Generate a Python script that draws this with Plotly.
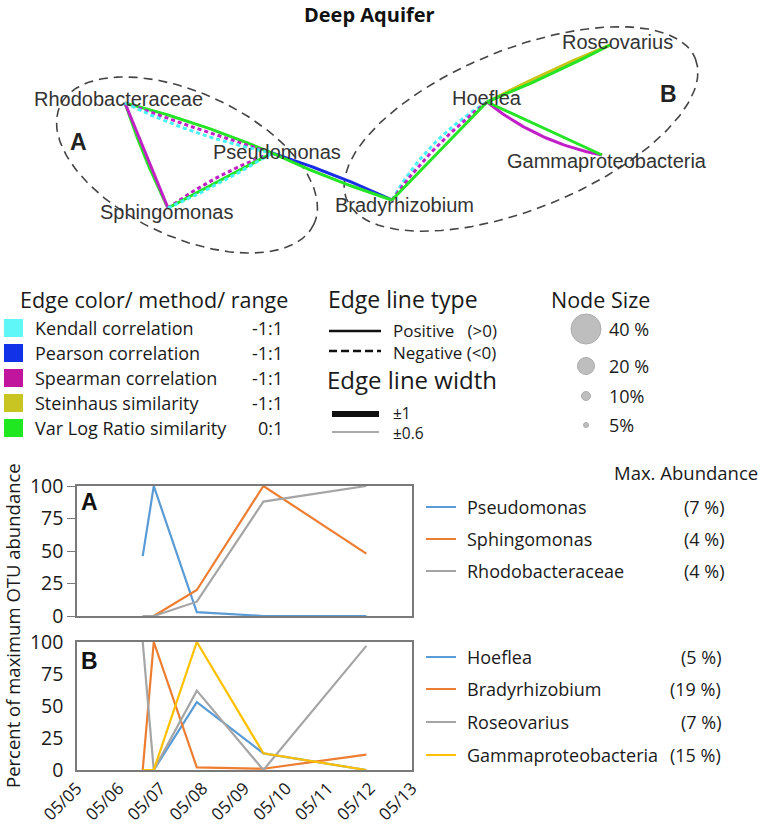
import numpy as np
import plotly.graph_objects as go

W, H = 760, 827

# ---------------- network data ----------------
node_names = ["Rhodobacteraceae", "Sphingomonas", "Pseudomonas", "Bradyrhizobium",
              "Hoeflea", "Roseovarius", "Gammaproteobacteria"]

edge_source = ["Rhodobacteraceae", "Rhodobacteraceae",
               "Rhodobacteraceae", "Rhodobacteraceae", "Rhodobacteraceae",
               "Sphingomonas", "Sphingomonas", "Sphingomonas",
               "Pseudomonas", "Pseudomonas",
               "Bradyrhizobium", "Bradyrhizobium", "Bradyrhizobium",
               "Hoeflea", "Hoeflea",
               "Hoeflea", "Hoeflea"]
edge_target = ["Sphingomonas", "Sphingomonas",
               "Pseudomonas", "Pseudomonas", "Pseudomonas",
               "Pseudomonas", "Pseudomonas", "Pseudomonas",
               "Bradyrhizobium", "Bradyrhizobium",
               "Hoeflea", "Hoeflea", "Hoeflea",
               "Roseovarius", "Roseovarius",
               "Gammaproteobacteria", "Gammaproteobacteria"]
edge_method = ["Var Log Ratio", "Spearman",
               "Var Log Ratio", "Spearman", "Kendall",
               "Spearman", "Var Log Ratio", "Kendall",
               "Pearson", "Var Log Ratio",
               "Kendall", "Spearman", "Var Log Ratio",
               "Steinhaus", "Var Log Ratio",
               "Spearman", "Var Log Ratio"]
edge_sign = [1, 1,
             1, -1, -1,
             -1, 1, -1,
             1, 1,
             -1, -1, 1,
             1, 1,
             1, 1]

# legend text
method_labels = ["Kendall correlation", "Pearson correlation", "Spearman correlation",
                 "Steinhaus similarity", "Var Log Ratio similarity"]
method_keys = ["Kendall", "Pearson", "Spearman", "Steinhaus", "Var Log Ratio"]
method_ranges = ["-1:1", "-1:1", "-1:1", "-1:1", "0:1"]
node_size_labels = ["40 %", "20 %", "10%", "5%"]
node_size_values = [40, 20, 10, 5]

# ---------------- time series data ----------------
sample_dates = ["2013-05-06 13:40", "2013-05-06 20:00", "2013-05-07 20:40",
                "2013-05-09 10:50", "2013-05-11 21:50"]
a_names = ["Pseudomonas", "Sphingomonas", "Rhodobacteraceae"]
a_max = ["(7 %)", "(4 %)", "(4 %)"]
pseudomonas = [46, 100, 3, 0, 0]
sphingomonas = [0, 0, 20, 100, 48]
rhodobacteraceae = [0, 0, 11, 88, 100]

b_names = ["Hoeflea", "Bradyrhizobium", "Roseovarius", "Gammaproteobacteria"]
b_max = ["(5 %)", "(19 %)", "(7 %)", "(15 %)"]
hoeflea = [0, 0, 53, 13, 0]
bradyrhizobium = [0, 100, 2, 1, 12]
roseovarius = [100, 0, 62, 0, 97]
gammaproteobacteria = [0, 0, 100, 13, 0]

y_ticks = [0, 25, 50, 75, 100]

# ---------------- styles / layout positions ----------------
method_color = {"Kendall": "#45F2F5", "Pearson": "#1A2EE6", "Spearman": "#C21FC8",
                "Steinhaus": "#C9C416", "Var Log Ratio": "#25E425"}
legend_square_color = {"Kendall": "#5FF7F7", "Pearson": "#1232E8", "Spearman": "#C2159E",
                       "Steinhaus": "#C8C422", "Var Log Ratio": "#20E820"}
series_colors = ["#5B9BD5", "#ED7D31", "#A5A5A5", "#FFC000"]

node_pos = {"Rhodobacteraceae": (125, 103), "Sphingomonas": (168, 208),
            "Pseudomonas": (272, 153), "Bradyrhizobium": (392, 200),
            "Hoeflea": (487, 102), "Roseovarius": (610, 45),
            "Gammaproteobacteria": (602, 155)}
label_pos = {"Rhodobacteraceae": (118, 99), "Sphingomonas": (166, 212),
             "Pseudomonas": (277, 152), "Bradyrhizobium": (404, 205),
             "Hoeflea": (487, 98), "Roseovarius": (617, 42),
             "Gammaproteobacteria": (607, 161)}
edge_bend = [2, 0,
             -3, 1, 5,
             -4, 0, 2,
             -2, 2,
             -9, -5, 0,
             -1.5, 1.5,
             8, 0]

CAL = "'Open Sans', Lato, sans-serif"
ARIAL = "'Liberation Sans', Arial, sans-serif"

fig = go.Figure()

OV = dict(xaxis="x3", yaxis="y3")


def curve(p0, p1, bend, n=40):
    t = np.linspace(0, 1, n)
    x0, y0 = p0
    x1, y1 = p1
    dx, dy = x1 - x0, y1 - y0
    L = np.hypot(dx, dy)
    px, py = -dy / L, dx / L
    b = bend * 4 * t * (1 - t)
    return x0 + dx * t + px * b, y0 + dy * t + py * b


def ellipse(cx, cy, a, b, ang_deg, n=200):
    t = np.linspace(0, 2 * np.pi, n)
    th = np.deg2rad(ang_deg)
    x = cx + a * np.cos(t) * np.cos(th) - b * np.sin(t) * np.sin(th)
    y = cy + a * np.cos(t) * np.sin(th) + b * np.sin(t) * np.cos(th)
    return x, y


for (cx, cy, a, b, ang) in [(187, 165, 140, 72, 25), (521, 129, 188, 80, -22)]:
    ex, ey = ellipse(cx, cy, a, b, ang)
    fig.add_trace(go.Scatter(x=ex, y=ey, mode="lines", hoverinfo="skip", showlegend=False,
                             line=dict(color="#444444", width=1.6, dash="9px,6px"), **OV))

for s, t_, m, sg, bd in zip(edge_source, edge_target, edge_method, edge_sign, edge_bend):
    x, y = curve(node_pos[s], node_pos[t_], bd)
    fig.add_trace(go.Scatter(x=x, y=y, mode="lines", hoverinfo="skip", showlegend=False,
                             line=dict(color=method_color[m], width=3,
                                       dash="solid" if sg > 0 else "4px,3px"), **OV))

annotations = []
shapes = []


def txt(x, y, s, size, font=CAL, xanchor="left", bold=False, color="#1a1a1a", **kw):
    annotations.append(dict(x=x, y=y, xref="x3", yref="y3", text=("<b>%s</b>" % s) if bold else s,
                            showarrow=False, xanchor=xanchor, yanchor="middle",
                            font=dict(family=font, size=size, color=color), **kw))


for n in node_names:
    lx, ly = label_pos[n]
    txt(lx, ly, n, 20, font=ARIAL, xanchor="center", color="#333333")

txt(369, 14, "Deep Aquifer", 20, xanchor="center", bold=True, color="#111111")
txt(78, 142, "A", 23, xanchor="center", bold=True, font=ARIAL, color="#222222")
txt(668, 94, "B", 23, xanchor="center", bold=True, font=ARIAL, color="#222222")

# ---- legend: edge colour ----
txt(18, 299, "Edge color/ method/ range", 21.5)
rows = [328, 353, 378, 403, 428]
for key, lab, rng, ry in zip(method_keys, method_labels, method_ranges, rows):
    shapes.append(dict(type="rect", xref="x3", yref="y3", x0=4, x1=23, y0=ry - 9, y1=ry + 9,
                       fillcolor=legend_square_color[key], line=dict(width=0)))
    txt(33, ry, lab, 18)
    txt(285, ry, rng, 18, xanchor="right")

# ---- legend: line type ----
txt(403, 299, "Edge line type", 23, xanchor="center")
shapes.append(dict(type="line", xref="x3", yref="y3", x0=329, x1=381, y0=331, y1=331,
                   line=dict(color="#111111", width=2.5)))
shapes.append(dict(type="line", xref="x3", yref="y3", x0=329, x1=381, y0=351, y1=351,
                   line=dict(color="#111111", width=2.5, dash="8px,4px")))
txt(391, 341, "Positive&nbsp;&nbsp;&nbsp;(>0)<br>Negative (<0)", 17, align="left")
txt(412, 379, "Edge line width", 24, xanchor="center")
shapes.append(dict(type="line", xref="x3", yref="y3", x0=332, x1=379, y0=414, y1=414,
                   line=dict(color="#111111", width=6)))
shapes.append(dict(type="line", xref="x3", yref="y3", x0=332, x1=379, y0=432, y1=432,
                   line=dict(color="#555555", width=1.2)))
txt(391, 423, "±1<br>±0.6", 15.5, align="left")

# ---- legend: node size ----
txt(600, 299, "Node Size", 21.5, xanchor="center")
size_rows = [329, 366, 396, 425]
size_px = [30, 17, 9, 5]
fig.add_trace(go.Scatter(x=[586] * 4, y=size_rows, mode="markers", hoverinfo="skip",
                         showlegend=False,
                         marker=dict(size=size_px, color="#A3A3A3",
                                     line=dict(color="#8a8a8a", width=1)), **OV))
for lab, ry in zip(node_size_labels, size_rows):
    txt(607, ry, lab, 18)

# ---------------- time series ----------------
a_series = [pseudomonas, sphingomonas, rhodobacteraceae]
for name, vals, col in zip(a_names, a_series, series_colors):
    fig.add_trace(go.Scatter(x=sample_dates, y=vals, mode="lines", name=name, showlegend=False,
                             line=dict(color=col, width=2.2), xaxis="x", yaxis="y"))
b_series = [hoeflea, bradyrhizobium, roseovarius, gammaproteobacteria]
for name, vals, col in zip(b_names, b_series, series_colors):
    fig.add_trace(go.Scatter(x=sample_dates, y=vals, mode="lines", name=name, showlegend=False,
                             line=dict(color=col, width=2.2), xaxis="x2", yaxis="y2"))

txt(686, 472, "Max. Abundance", 18.5, xanchor="center")
for name, mx, ry, col in zip(a_names, a_max, [507, 539, 571], series_colors):
    shapes.append(dict(type="line", xref="x3", yref="y3", x0=426, x1=456, y0=ry, y1=ry,
                       line=dict(color=col, width=2)))
    txt(465, ry, name, 18)
    txt(726, ry, mx, 18, xanchor="right")
for name, mx, ry, col in zip(b_names, b_max, [657, 689, 722, 755], series_colors):
    shapes.append(dict(type="line", xref="x3", yref="y3", x0=426, x1=456, y0=ry, y1=ry,
                       line=dict(color=col, width=2)))
    txt(465, ry, name, 18)
    txt(723, ry, mx, 18, xanchor="right")

txt(89, 502, "A", 23, bold=True, xanchor="center", font=ARIAL, color="#111111")
txt(89, 661, "B", 23, bold=True, xanchor="center", font=ARIAL, color="#111111")
annotations.append(dict(x=12, y=626, xref="x3", yref="y3", text="Percent of maximum OTU abundance",
                        textangle=-90, showarrow=False, xanchor="center", yanchor="middle",
                        font=dict(family=CAL, size=18.5, color="#1a1a1a")))

px0, px1 = 77, 412


def xdom(left, right):
    return [left / W, right / W]


def ydom(top, bot):
    return [(H - bot) / H, (H - top) / H]


xr = ["2013-05-05", "2013-05-13"]
common_x = dict(type="date", range=xr, showgrid=False, zeroline=False, showline=True,
                linecolor="#7a7a7a", linewidth=1.5, mirror=True, automargin=False,
                domain=xdom(px0, px1))
common_y = dict(range=[0, 100], tickvals=y_ticks, showgrid=False, zeroline=False,
                showline=True, linecolor="#7a7a7a", linewidth=1.5, mirror=True, automargin=False,
                tickfont=dict(family=CAL, size=19.5, color="#1a1a1a"))

fig.update_layout(
    template="none",
    width=W, height=H, margin=dict(l=0, r=0, t=0, b=0, autoexpand=False),
    paper_bgcolor="white", plot_bgcolor="rgba(0,0,0,0)",
    showlegend=False,
    xaxis=dict(**common_x, anchor="y", showticklabels=False, ticks=""),
    yaxis=dict(**common_y, anchor="x", domain=ydom(486, 616), ticks="outside", ticklen=8,
               tickcolor="#7a7a7a"),
    xaxis2=dict(**common_x, anchor="y2", tickformat="%m/%d", dtick=86400000, tickangle=-45,
                ticks="", tickfont=dict(family=CAL, size=17, color="#1a1a1a")),
    yaxis2=dict(**common_y, anchor="x2", domain=ydom(642, 770), ticks="outside", ticklen=8,
                tickcolor="rgba(0,0,0,0)"),
    xaxis3=dict(range=[0, W], domain=[0, 1], visible=False, fixedrange=True, anchor="y3",
                automargin=False),
    yaxis3=dict(range=[H, 0], domain=[0, 1], visible=False, fixedrange=True, anchor="x3",
                automargin=False),
    annotations=annotations, shapes=shapes,
)

fig.write_html("out.html", config={"displayModeBar": False},
               post_script="document.body.style.margin='0';document.body.style.overflow='hidden';")
